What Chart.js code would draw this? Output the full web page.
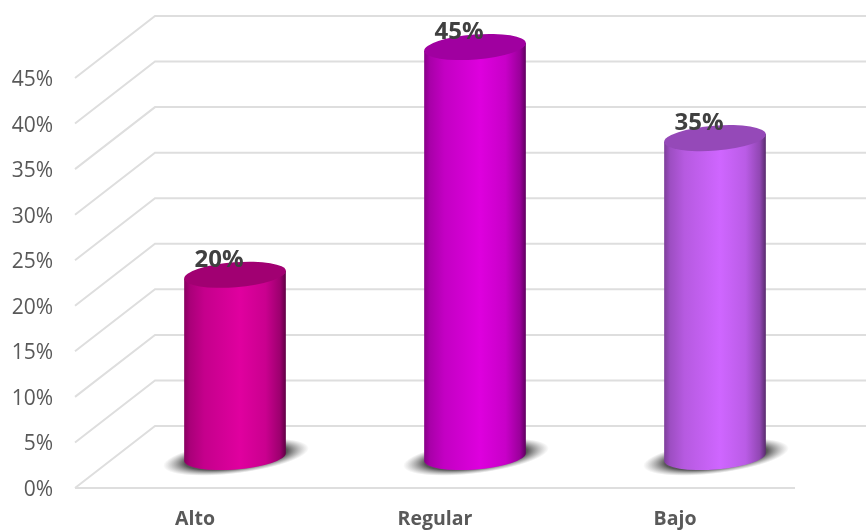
<!DOCTYPE html>
<html>
<head>
<meta charset="utf-8">
<title>Chart</title>
<script src="https://cdn.jsdelivr.net/npm/chart.js@4"></script>
<style>
    html, body { margin: 0; padding: 0; background: #ffffff; }
    #wrap { width: 866px; height: 531px; }
</style>
</head>
<body>
<div id="wrap"><canvas id="chart" width="866" height="531"></canvas></div>
<script>
const categories = ['Alto', 'Regular', 'Bajo'];
const values = [20, 45, 35];
const barColors = ['#e0009f', '#de00de', '#cf66ff'];
const tickStep = 5;
const tickMax = 45;

const GRID_COLOR = '#dedede';
const DEPTH_X = 80;   // back wall offset
const DEPTH_Y = 62;
const TILT = 4.5 * Math.PI / 180;
const RY_RATIO = 0.245;

function shade(hex, f) {
    const n = parseInt(hex.slice(1), 16);
    const r = Math.round(((n >> 16) & 255) * f);
    const g = Math.round(((n >> 8) & 255) * f);
    const b = Math.round((n & 255) * f);
    return `rgb(${r},${g},${b})`;
}

function drawCylinder(ctx, bar, color) {
    const cx = bar.x + DEPTH_X / 2;
    const baseY = bar.base - DEPTH_Y / 2;
    const topY = bar.y - DEPTH_Y / 2;
    const rx = bar.width / 2;
    const ry = rx * RY_RATIO;
    const dx = rx * Math.cos(TILT);
    const dy = rx * Math.sin(TILT);

    // shadow on the floor
    ctx.save();
    ctx.translate(cx + 1, baseY);
    ctx.rotate(-TILT * 1.6);
    ctx.scale(1, 0.225);
    const sh = ctx.createRadialGradient(0, 0, 0, 0, 0, rx * 1.44);
    sh.addColorStop(0, 'rgba(50,50,50,0.95)');
    sh.addColorStop(0.7, 'rgba(70,70,70,0.9)');
    sh.addColorStop(1, 'rgba(130,130,130,0)');
    ctx.fillStyle = sh;
    ctx.beginPath();
    ctx.arc(0, 0, rx * 1.44, 0, Math.PI * 2);
    ctx.fill();
    ctx.restore();

    // body
    const grad = ctx.createLinearGradient(cx - rx, 0, cx + rx, 0);
    grad.addColorStop(0, shade(color, 0.6));
    grad.addColorStop(0.06, shade(color, 0.76));
    grad.addColorStop(0.2, shade(color, 0.88));
    grad.addColorStop(0.55, shade(color, 1));
    grad.addColorStop(0.8, shade(color, 0.9));
    grad.addColorStop(0.94, shade(color, 0.7));
    grad.addColorStop(1, shade(color, 0.42));
    ctx.fillStyle = grad;
    ctx.beginPath();
    ctx.moveTo(cx - dx, topY + dy);
    ctx.lineTo(cx - dx, baseY + dy);
    ctx.ellipse(cx, baseY, rx, ry, -TILT, Math.PI, 0, true);
    ctx.lineTo(cx + dx, topY - dy);
    ctx.closePath();
    ctx.fill();

    // top cap
    ctx.fillStyle = shade(color, 0.72);
    ctx.beginPath();
    ctx.ellipse(cx, topY, rx, ry, -TILT, 0, Math.PI * 2);
    ctx.fill();
}

const cylinderPlugin = {
    id: 'cylinders',
    afterLayout(chart) {
        // nudge the y labels down a little, Open Sans sits high
        chart.scales.y.getLabelItems().forEach(item => { item.options.translation[1] += 2; });
    },
    beforeDatasetsDraw(chart) {
        // back wall, side wall and floor lines
        const ctx = chart.ctx;
        const yScale = chart.scales.y;
        const area = chart.chartArea;
        ctx.save();
        ctx.strokeStyle = GRID_COLOR;
        ctx.lineWidth = 2;
        yScale.ticks.forEach(t => {
            const y = yScale.getPixelForValue(t.value);
            ctx.beginPath();
            ctx.moveTo(area.left, y);
            ctx.lineTo(area.left + DEPTH_X, y - DEPTH_Y);
            ctx.lineTo(chart.width, y - DEPTH_Y);
            ctx.stroke();
        });
        ctx.beginPath();
        ctx.moveTo(area.left, area.bottom);
        ctx.lineTo(area.right, area.bottom);
        ctx.stroke();
        ctx.restore();
    },
    beforeDatasetDraw(chart, args) {
        // bars get painted as cylinders from the bar elements
        const ctx = chart.ctx;
        const meta = args.meta;
        ctx.save();
        meta.data.forEach((bar, i) => {
            drawCylinder(ctx, bar, chart.data.datasets[args.index].backgroundColor[i]);
        });
        ctx.fillStyle = '#404040';
        ctx.font = 'bold 24px "Open Sans"';
        ctx.textAlign = 'center';
        ctx.textBaseline = 'middle';
        meta.data.forEach((bar, i) => {
            ctx.fillText(values[i] + '%', bar.x + DEPTH_X / 2 - 16, bar.y - DEPTH_Y / 2 - 15);
        });
        ctx.restore();
        return false;
    }
};

new Chart(document.getElementById('chart'), {
    type: 'bar',
    data: {
        labels: categories,
        datasets: [{
            data: values,
            backgroundColor: barColors,
            borderWidth: 0,
            categoryPercentage: 1,
            barPercentage: 0.425
        }]
    },
    options: {
        responsive: false,
        animation: false,
        layout: { padding: { top: 78, right: 71, left: 0, bottom: 0 } },
        plugins: {
            legend: { display: false },
            tooltip: { enabled: false }
        },
        scales: {
            x: {
                grid: { display: false },
                border: { display: false },
                ticks: {
                    color: '#595959',
                    font: { family: 'Open Sans', size: 19.5, weight: 'bold' },
                    padding: 12
                },
                afterFit(scale) { scale.height = 43; }
            },
            y: {
                min: 0,
                max: tickMax,
                grid: { display: false },
                border: { display: false },
                ticks: {
                    stepSize: tickStep,
                    color: '#595959',
                    font: { family: 'Open Sans', size: 21 },
                    padding: 14,
                    callback: v => v + '%'
                },
                afterFit(scale) { scale.width = 75; }
            }
        }
    },
    plugins: [cylinderPlugin]
});
</script>
</body>
</html>
